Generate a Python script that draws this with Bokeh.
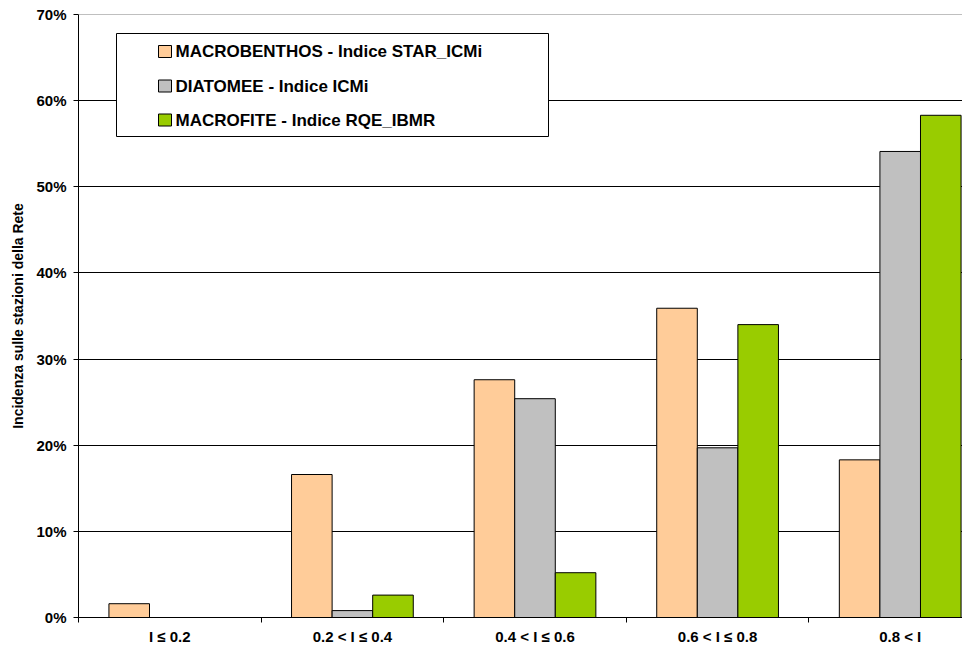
from bokeh.plotting import figure
from bokeh.models import FixedTicker, Span, BoxAnnotation, Label
from bokeh.embed import file_html
from bokeh.resources import INLINE

# ---- data ----
categories = ["I ≤ 0.2", "0.2 < I ≤ 0.4", "0.4 < I ≤ 0.6", "0.6 < I ≤ 0.8", "0.8 < I"]
macrobenthos = [1.6, 16.6, 27.6, 35.9, 18.3]
diatomee = [0.0, 0.8, 25.4, 19.7, 54.1]
macrofite = [0.0, 2.6, 5.2, 34.0, 58.3]
series_names = ["MACROBENTHOS - Indice STAR_ICMi", "DIATOMEE - Indice ICMi", "MACROFITE - Indice RQE_IBMR"]
series_colors = ["#FFCC99", "#C0C0C0", "#99CC00"]
y_ticks = [0, 10, 20, 30, 40, 50, 60, 70]
y_tick_labels = ["0%", "10%", "20%", "30%", "40%", "50%", "60%", "70%"]
y_axis_title = "Incidenza sulle stazioni della Rete"

FONT = "Liberation Sans"

W, H = 962, 647
TOP, BOTTOM, LEFT = 14, 28, 78
FRAME_H = H - TOP - BOTTOM
FRAME_W = W - LEFT
CAT_PX = 182.6

p = figure(width=W, height=H, x_range=(0, FRAME_W / CAT_PX), y_range=(0, 70),
           output_backend="svg", toolbar_location=None,
           min_border_left=LEFT, min_border_right=0, min_border_top=TOP, min_border_bottom=BOTTOM)
p.outline_line_color = None
p.background_fill_color = "white"

centers = [i + 0.5 for i in range(len(categories))]
bw = 1 / 4.5
offsets = [-bw, 0.0, bw]
for vals, off, col in zip([macrobenthos, diatomee, macrofite], offsets, series_colors):
    p.vbar(x=[c + off for c in centers], top=vals, bottom=0, width=bw,
           fill_color=col, line_color="black", line_width=1)

# x axis
xa = p.xaxis[0]
xa.ticker = FixedTicker(ticks=centers, minor_ticks=[0, 1, 2, 3, 4, 5])
xa.major_label_overrides = {c: lab for c, lab in zip(centers, categories)}
xa.major_tick_line_color = None
xa.major_tick_in = 0
xa.major_tick_out = 0
xa.minor_tick_line_color = "black"
xa.minor_tick_in = 0
xa.minor_tick_out = 5
xa.axis_line_color = "black"
xa.major_label_text_font = FONT
xa.major_label_text_font_style = "bold"
xa.major_label_text_font_size = "15px"
xa.major_label_text_color = "black"
xa.major_label_standoff = 5

# y axis
ya = p.yaxis[0]
ya.ticker = FixedTicker(ticks=y_ticks)
ya.major_label_overrides = {t: lab for t, lab in zip(y_ticks, y_tick_labels)}
ya.major_tick_in = 0
ya.major_tick_out = 5
ya.major_tick_line_color = "black"
ya.minor_tick_line_color = None
ya.axis_line_color = "black"
ya.major_label_text_font = FONT
ya.major_label_text_font_style = "bold"
ya.major_label_text_font_size = "15px"
ya.major_label_text_color = "black"
ya.major_label_standoff = 7
ya.axis_label = y_axis_title
ya.axis_label_text_font = FONT
ya.axis_label_text_font_style = "bold"
ya.axis_label_text_font_size = "14px"
ya.axis_label_text_color = "black"
ya.axis_label_standoff = 7

p.xgrid.visible = False
p.ygrid.ticker = FixedTicker(ticks=y_ticks[1:-1])
p.ygrid.grid_line_color = "black"
p.ygrid.grid_line_width = 1
p.add_layout(Span(location=y_ticks[-1], dimension="width", line_color="#808080", line_width=1))

# legend (manual, screen units relative to frame; y measured up from frame bottom)
def from_top(d):
    return FRAME_H - d

box = BoxAnnotation(left=38, right=470, top=from_top(21), bottom=from_top(124),
                    left_units="screen", right_units="screen", top_units="screen", bottom_units="screen",
                    fill_color="white", fill_alpha=1.0, line_color="black", line_width=1, line_alpha=1.0)
p.add_layout(box)
row_y = [39, 73.5, 107.5]
for name, col, ry in zip(series_names, series_colors, row_y):
    yc = from_top(ry)
    sq = BoxAnnotation(left=80, right=93, top=yc + 6, bottom=yc - 6,
                       left_units="screen", right_units="screen", top_units="screen", bottom_units="screen",
                       fill_color=col, fill_alpha=1.0, line_color="black", line_width=1, line_alpha=1.0)
    p.add_layout(sq)
    p.add_layout(Label(x=97, y=yc, x_units="screen", y_units="screen", text=name,
                       text_font=FONT, text_font_style="bold", text_font_size="17px",
                       text_baseline="middle", text_color="black"))

open("out.html", "w").write(file_html(p, INLINE))
